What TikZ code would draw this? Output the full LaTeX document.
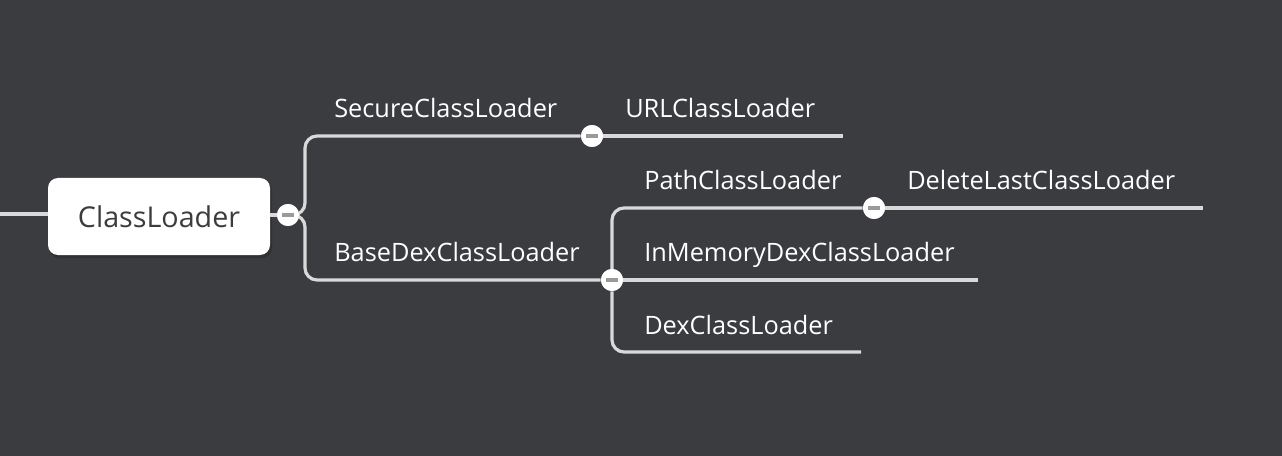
\documentclass[tikz,border=0pt]{standalone}
\usepackage{fontspec}
\setmainfont{Open Sans}
\definecolor{bg}{HTML}{3A3C40}
\definecolor{ln}{HTML}{D9D9D9}
\definecolor{minus}{HTML}{9A9A9A}
\definecolor{dark}{HTML}{3C3C3C}
\begin{document}
\begin{tikzpicture}[x=0.75pt,y=-0.75pt,
  edge/.style={draw=ln,line width=2.4pt,rounded corners=9pt},
  lbl/.style={anchor=base west,text=white,font=\fontsize{19}{22}\selectfont,inner sep=0pt},
  coll/.style={circle,fill=white,minimum size=16.5pt,inner sep=0pt,
    path picture={\draw[minus,line width=3pt] ([xshift=-4.5pt]path picture bounding box.center) -- ([xshift=4.5pt]path picture bounding box.center);}},
  rootbox/.style={fill=white,rounded corners=7.5pt,minimum width=166.5pt,minimum height=57.75pt,text=dark,font=\fontsize{21.5}{24}\selectfont}]
\fill[bg] (0,0) rectangle (1282,456);
\useasboundingbox (0,0) rectangle (1282,456);
% root
\coordinate (lend) at (0,214);
\fill[black,opacity=0.18,rounded corners=7.5pt] (49,181) rectangle (272,258);
\node[rootbox] (root) at (159,216.5) {ClassLoader};
\draw[edge] (lend) -- (root.west |- lend);
% collapse circles
\node[coll] (c0) at (288,215) {};
\node[coll] (c1) at (592,136) {};
\node[coll] (c2) at (612,280) {};
\node[coll] (c3) at (874,208) {};
% end coordinates
\coordinate (eURL) at (843,136);
\coordinate (eDel) at (1203,208);
\coordinate (eMem) at (978,280);
\coordinate (eDex) at (861,352);
% edges
\draw[edge] (root.east |- c0) -- (c0);
\draw[edge] (c0) -- (305,215) |- (c1);
\draw[edge] (c0) -- (305,215) |- (c2);
\draw[edge] (c1) -- (eURL);
\draw[edge] (c2) -- (612,280) |- (c3);
\draw[edge] (c3) -- (eDel);
\draw[edge] (c2) -- (eMem);
\draw[edge] (c2) |- (eDex);
% redraw circles on top
\node[coll] at (c0) {};
\node[coll] at (c1) {};
\node[coll] at (c2) {};
\node[coll] at (c3) {};
% labels
\node[lbl] (tSec) at (334,118) {SecureClassLoader};
\node[lbl] (tURL) at (625,118) {URLClassLoader};
\node[lbl] (tBase) at (334,262) {BaseDexClassLoader};
\node[lbl] (tPath) at (644,190) {PathClassLoader};
\node[lbl] (tDel) at (907,190) {DeleteLastClassLoader};
\node[lbl] (tMem) at (644,262) {InMemoryDexClassLoader};
\node[lbl] (tDex) at (644,334) {DexClassLoader};
\end{tikzpicture}
\end{document}
